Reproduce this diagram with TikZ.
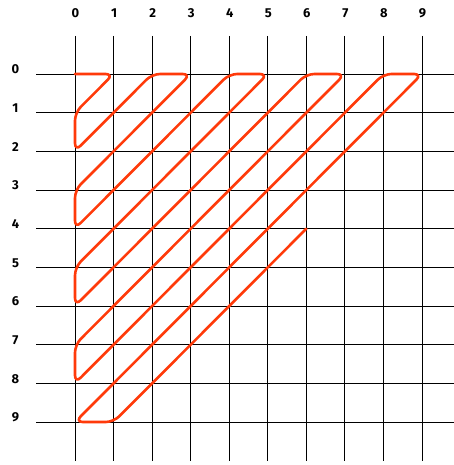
\documentclass[tikz,border=0pt]{standalone}
\usepackage{fontspec}
\setmainfont{Fira Sans}
\definecolor{pathred}{RGB}{255,58,10}
\begin{document}
\begin{tikzpicture}[x=1bp,y=1bp,
  gridline/.style={black,line width=0.9bp},
  lab/.style={font=\bfseries\fontsize{13}{13}\selectfont,inner sep=0pt},
  trav/.style={pathred,line width=2.6bp,rounded corners=8bp,line join=round,line cap=round}]
\useasboundingbox (0,0) rectangle (454,465);
% grid points
\foreach \c in {0,...,9}{
  \foreach \r in {0,...,9}{
    \coordinate (p\c-\r) at ({75+38.56*\c},{391-38.67*\r});
  }
  \coordinate (top\c) at ({75+38.56*\c},429);
  \coordinate (bot\c) at ({75+38.56*\c},4);
  \coordinate (lft\c) at (36,{391-38.67*\c});
  \coordinate (rgt\c) at (454,{391-38.67*\c});
  \node[lab] (col\c) at ({75.5+38.56*\c},452) {\c};
  \node[lab] (row\c) at (15.5,{395.5-38.67*\c}) {\c};
}
\foreach \i in {0,...,9}{
  \draw[gridline] (top\i) -- (bot\i);
  \draw[gridline] (lft\i) -- (rgt\i);
}
% traversal path
\draw[trav] (p0-0) -- (p1-0) -- (p0-1) -- (p0-2) -- (p2-0) -- (p3-0) -- (p0-3)
  -- (p0-4) -- (p4-0) -- (p5-0) -- (p0-5) -- (p0-6) -- (p6-0) -- (p7-0)
  -- (p0-7) -- (p0-8) -- (p8-0) -- (p9-0) -- (p0-9) -- (p1-9) -- (p6-4);
\end{tikzpicture}
\end{document}
